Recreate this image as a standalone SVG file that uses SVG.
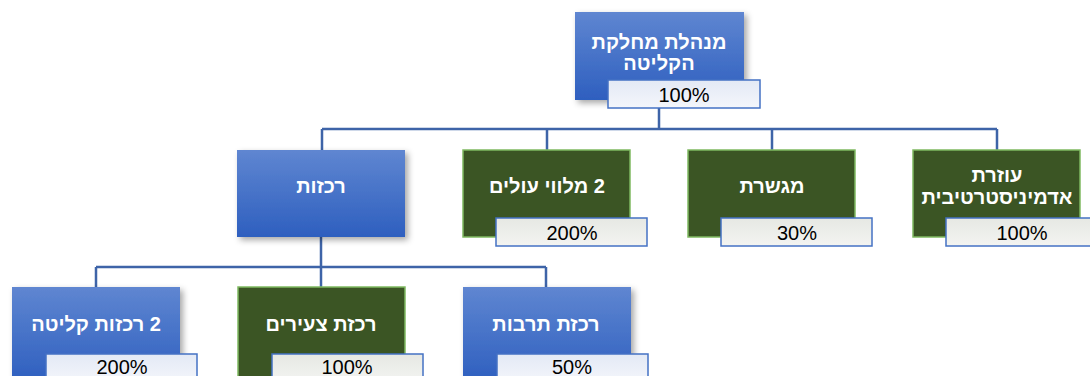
<svg xmlns="http://www.w3.org/2000/svg" width="1090" height="376" viewBox="0 0 1090 376">
<defs>
<linearGradient id="gBlue" x1="0" y1="0" x2="0" y2="1"><stop offset="0" stop-color="#5f86d1"/><stop offset="1" stop-color="#2e5fbf"/></linearGradient>
<linearGradient id="gLblB" x1="0" y1="0" x2="0" y2="1"><stop offset="0" stop-color="#e3e9f5"/><stop offset="1" stop-color="#f4f6fb"/></linearGradient>
<linearGradient id="gLblG" x1="0" y1="0" x2="0" y2="1"><stop offset="0" stop-color="#e6e8e3"/><stop offset="1" stop-color="#f3f4f1"/></linearGradient>
<filter id="sh" x="-10%" y="-10%" width="130%" height="130%"><feDropShadow dx="3" dy="3" stdDeviation="3" flood-color="#000" flood-opacity="0.35"/></filter>
</defs>
<style>
.blue{fill:url(#gBlue);filter:url(#sh)}
.green{fill:#3b5524;stroke:#7fb960;stroke-width:1.5}
.lblB{fill:url(#gLblB);stroke:#4472c4;stroke-width:1.5}
.lblG{fill:url(#gLblG);stroke:#4472c4;stroke-width:1.5}
.nt{font-family:"Liberation Sans","DejaVu Sans",sans-serif;font-weight:bold;font-size:20px;fill:#fff;text-anchor:middle}
.pt{font-family:"Liberation Sans","DejaVu Sans",sans-serif;font-size:20px;fill:#000;text-anchor:middle}
.ln{fill:none;stroke:#3e64a8;stroke-width:2.5}
</style>
<g id="connectors">
<path class="ln" d="M659 100V129M322 129H997M322 129V150M547 129V150M772 129V150M997 129V150"/>
<path class="ln" d="M321 237V267M96 267H546M96 267V287M321 267V287M546 267V287"/>
</g>
<g id="n-head">
<rect class="blue" x="575" y="12" width="169" height="88"/>
<text class="nt" direction="rtl" x="659" y="49">מנהלת מחלקת</text>
<text class="nt" direction="rtl" x="659" y="70">הקליטה</text>
<rect class="lblB" x="608" y="80" width="152" height="28"/>
<text class="pt" x="684" y="102">100%</text>
</g>
<g id="n-rakazot">
<rect class="blue" x="237" y="150" width="168" height="87"/>
<text class="nt" direction="rtl" x="321" y="193">רכזות</text>
</g>
<g id="n-melavim">
<rect class="green" x="463" y="150" width="167" height="87"/>
<text class="nt" direction="rtl" x="547" y="193">2 מלווי עולים</text>
<rect class="lblG" x="496" y="218" width="151" height="28"/>
<text class="pt" x="572" y="240">200%</text>
</g>
<g id="n-megasheret">
<rect class="green" x="688" y="150" width="167" height="87"/>
<text class="nt" direction="rtl" x="772" y="193">מגשרת</text>
<rect class="lblG" x="721" y="218" width="151" height="28"/>
<text class="pt" x="797" y="240">30%</text>
</g>
<g id="n-ozeret">
<rect class="green" x="913" y="150" width="167" height="87"/>
<text class="nt" direction="rtl" x="997" y="182">עוזרת</text>
<text class="nt" direction="rtl" x="997" y="204">אדמיניסטרטיבית</text>
<rect class="lblG" x="946" y="218" width="151" height="28"/>
<text class="pt" x="1022" y="240">100%</text>
</g>
<g id="n-klita">
<rect class="blue" x="12" y="287" width="168" height="95"/>
<text class="nt" direction="rtl" x="96" y="331">2 רכזות קליטה</text>
<rect class="lblB" x="46" y="354" width="151" height="28"/>
<text class="pt" x="122" y="374">200%</text>
</g>
<g id="n-tseirim">
<rect class="green" x="238" y="287" width="167" height="95"/>
<text class="nt" direction="rtl" x="321" y="331">רכזת צעירים</text>
<rect class="lblG" x="272" y="354" width="151" height="28"/>
<text class="pt" x="347" y="374">100%</text>
</g>
<g id="n-tarbut">
<rect class="blue" x="463" y="287" width="168" height="95"/>
<text class="nt" direction="rtl" x="546" y="331">רכזת תרבות</text>
<rect class="lblB" x="497" y="354" width="151" height="28"/>
<text class="pt" x="572" y="374">50%</text>
</g>
</svg>
